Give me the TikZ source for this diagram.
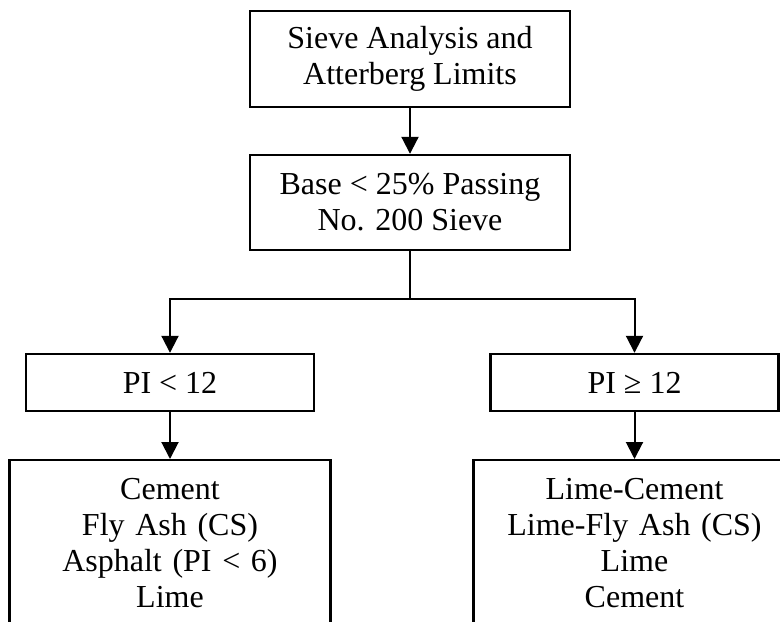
\documentclass[tikz,border=0pt]{standalone}
\usepackage{fontspec}
\setmainfont{Liberation Serif}
\usetikzlibrary{arrows.meta}

\begin{document}
\begin{tikzpicture}[x=0.5pt, y=-0.5pt,
    box/.style={draw, line width=1.2pt, align=center, inner sep=0pt,
      font=\fontsize{16}{18}\selectfont},
    arr/.style={line width=1pt, -{Triangle[length=8.5pt, width=8.5pt]}}]
  % page frame
  \useasboundingbox (0,0) rectangle (780,621);
  \clip (0,0) rectangle (780,621);

  % Tests
  \node[box, minimum width=160pt, minimum height=48pt] (tests) at (410,59)
    {Sieve Analysis and\\Atterberg Limits};
  \node[box, minimum width=160pt, minimum height=47.5pt] (base) at (410,202.5)
    {Base < 25\% Passing\\No. 200 Sieve};

  % PI split
  \node[box, minimum width=144pt, minimum height=28.5pt] (pilow) at (170,382.5)
    {PI < 12};
  \node[box, minimum width=144pt, minimum height=28.5pt] (pihigh) at (634.5,382.5)
    {PI \char"2265{} 12};

  % Stabilizers (boxes run off the page)
  \node[box, anchor=north, text width=160.5pt, inner ysep=9pt] (stablow) at (170,459)
    {Cement\\Fly Ash (CS)\\Asphalt (PI < 6)\\Lime};
  \node[box, anchor=north, text width=161pt, inner ysep=9pt] (stabhigh) at (634.5,459)
    {Lime-Cement\\Lime-Fly Ash (CS)\\Lime\\Cement};

  % Connectors
  \coordinate (split) at (410,299);
  \draw[arr] (tests) -- (base);
  \draw[line width=1pt] (base) -- (split);
  \draw[arr] (split) -| (pilow);
  \draw[arr] (split) -| (pihigh);
  \draw[arr] (pilow) -- (stablow);
  \draw[arr] (pihigh) -- (stabhigh);
\end{tikzpicture}
\end{document}
